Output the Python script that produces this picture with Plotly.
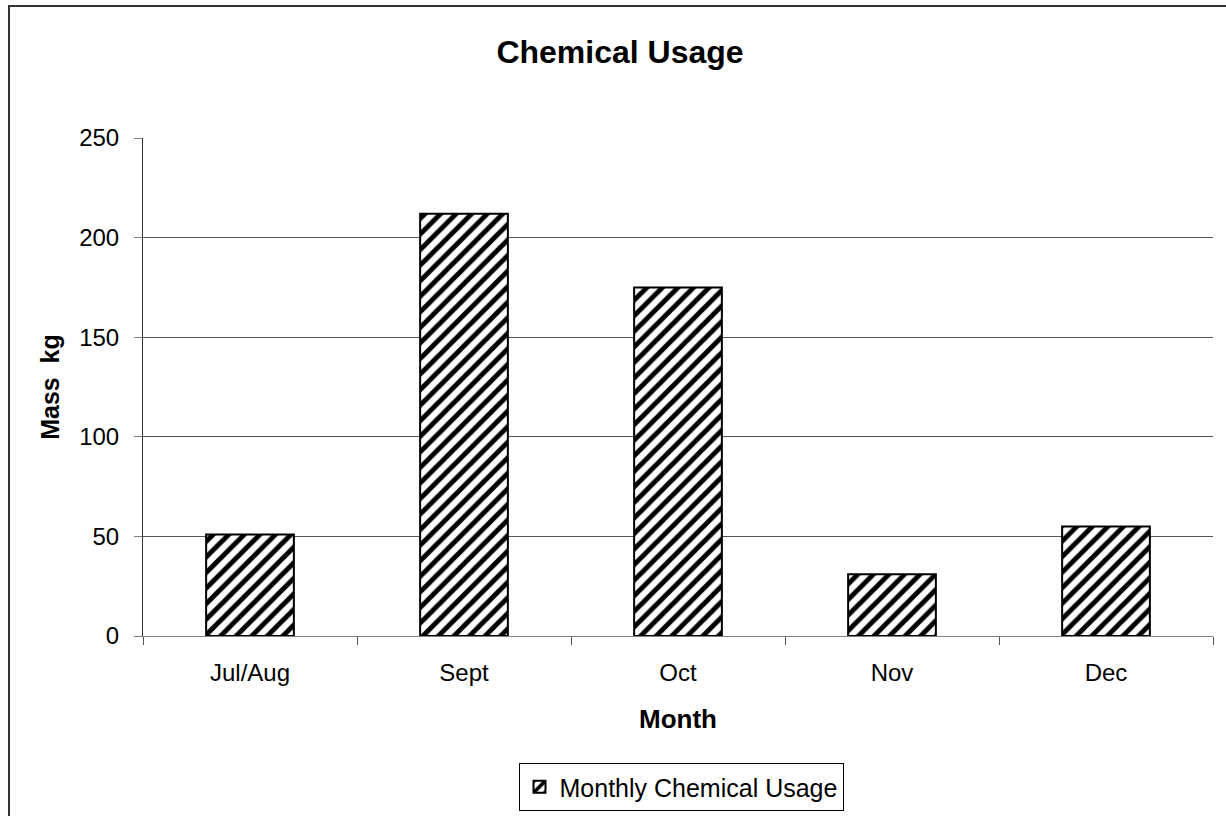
import plotly.graph_objects as go

months = ["Jul/Aug", "Sept", "Oct", "Nov", "Dec"]
usage = [51, 212, 175, 31, 55]
y_ticks = [0, 50, 100, 150, 200, 250]

FONT = "Liberation Sans, Arial, sans-serif"

fig = go.Figure()
fig.add_trace(go.Bar(
    x=months, y=usage, name="Monthly Chemical Usage",
    marker=dict(color="white", line=dict(color="black", width=2),
                pattern=dict(shape="/", fgcolor="black", bgcolor="white",
                             fgopacity=1, size=11, solidity=0.45)),
))

fig.update_layout(
    width=1226, height=816,
    margin=dict(l=143, r=13, t=138, b=180),
    paper_bgcolor="white", plot_bgcolor="white",
    font=dict(family=FONT, color="black", size=24),
    title=dict(text="<b>Chemical Usage</b>", x=620 / 1226, xanchor="center",
               y=1 - 52 / 816, yanchor="middle", font=dict(size=32)),
    bargap=0.59,
    showlegend=True,
    legend=dict(orientation="h", x=681 / 1226, xanchor="center", xref="container",
                y=1 - 763 / 816, yanchor="top", yref="container",
                bordercolor="black", borderwidth=1, font=dict(size=25)),
    shapes=[dict(type="rect", xref="paper", yref="paper",
                 x0=-134 / 1070, x1=1.2, y0=-0.5, y1=1 + 132 / 498,
                 line=dict(color="#333", width=2), fillcolor="rgba(0,0,0,0)",
                 layer="below")],
)
fig.update_xaxes(
    automargin=False,
    showline=True, linecolor="#808080", linewidth=1,
    ticks="outside", tickson="boundaries", ticklen=8, tickcolor="#555",
    ticklabelstandoff=15,
    title=dict(text="<b>Month</b>", font=dict(size=26), standoff=25),
    tickfont=dict(size=24),
)
fig.update_yaxes(
    automargin=False,
    range=[0, 250], tickvals=y_ticks, showgrid=True, gridcolor="#555", gridwidth=1,
    showline=True, linecolor="#333", linewidth=1,
    ticks="outside", ticklen=8, tickcolor="#808080",
    ticklabelstandoff=10,
    title=dict(text="<b>Mass  kg</b>", font=dict(size=25), standoff=12),
    tickfont=dict(size=24), zeroline=False,
)

fig.write_html("out.html", config={"displayModeBar": False},
               post_script="document.body.style.margin='0';")
